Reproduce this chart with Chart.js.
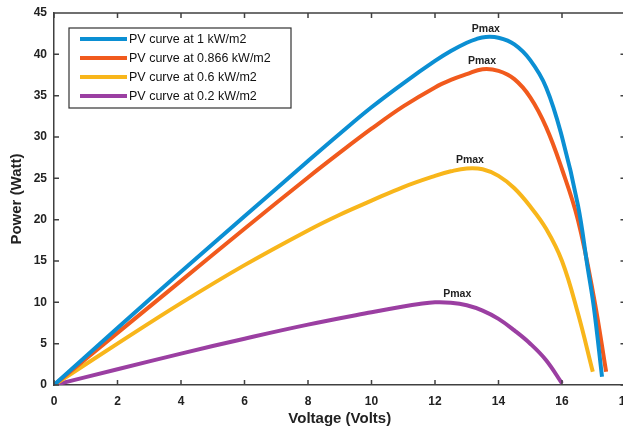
<!DOCTYPE html>
<html>
<head>
<meta charset="utf-8">
<script src="https://cdn.jsdelivr.net/npm/chart.js@4.4.1/dist/chart.umd.min.js"></script>
<style>
  html, body { margin: 0; padding: 0; background: #fff; overflow: hidden; }
  #wrap { width: 623px; height: 432px; overflow: hidden; position: relative; }
  #grafico { position: absolute; left: 0; top: 0; }
</style>
</head>
<body>
<div id="wrap"><canvas id="grafico" width="629" height="432"></canvas></div>
<script>
// Curvas P-V
var nomes = ['PV curve at 1 kW/m2', 'PV curve at 0.866 kW/m2', 'PV curve at 0.6 kW/m2', 'PV curve at 0.2 kW/m2']
var cores = ['#0b8fd3', '#f15a1d', '#f8b61b', '#9b3fa2']

var tensao_1 = [0, 2, 4, 6, 8, 9, 10, 11, 12, 12.5, 13, 13.3, 13.6, 14, 14.5, 15, 15.5, 16, 16.5, 16.8, 17, 17.26]
var potencia_1 = [0, 6.9, 13.7, 20.4, 27.1, 30.4, 33.6, 36.5, 39.2, 40.4, 41.4, 41.85, 42.1, 42.0, 41.2, 39.3, 36.0, 30.0, 21.8, 14.4, 9.5, 1.0]

var tensao_2 = [0, 2, 4, 6, 8, 9, 10, 11, 12, 12.5, 13, 13.5, 14, 14.5, 15, 15.5, 16, 16.5, 17, 17.39]
var potencia_2 = [0, 6.3, 12.6, 18.9, 25.1, 28.1, 31.0, 33.7, 36.0, 36.9, 37.6, 38.2, 38.0, 37.0, 34.8, 31.2, 26.1, 20.0, 10.7, 1.6]

var tensao_3 = [0, 2, 4, 6, 8, 9, 10, 11, 12, 12.5, 13, 13.5, 14, 14.5, 15, 15.5, 16, 16.5, 16.97]
var potencia_3 = [0, 5.0, 9.9, 14.5, 18.7, 20.6, 22.3, 23.95, 25.3, 25.85, 26.2, 26.1, 25.3, 23.8, 21.6, 18.9, 15.0, 8.7, 1.6]

var tensao_4 = [0, 2, 4, 6, 8, 10, 11, 11.5, 12, 12.5, 13, 13.5, 14, 14.5, 15, 15.5, 16]
var potencia_4 = [0, 1.9, 3.8, 5.6, 7.3, 8.8, 9.5, 9.8, 10.0, 9.95, 9.65, 9.0, 8.0, 6.6, 5.0, 3.0, 0.2]

// onde fica o texto "Pmax" (em volts) para cada curva
var pmax_label_v = [13.6, 13.48, 13.1, 12.7]

var ticks_x = [0, 2, 4, 6, 8, 10, 12, 14, 16, 18]
var ticks_y = [0, 5, 10, 15, 20, 25, 30, 35, 40, 45]

var tensoes = [tensao_1, tensao_2, tensao_3, tensao_4]
var potencias = [potencia_1, potencia_2, potencia_3, potencia_4]

function montarPontos(v, p) {
    var pts = []
    for (var i = 0; i < v.length; i++) {
        pts.push({ x: v[i], y: p[i] })
    }
    return pts
}

var datasets = []
for (var i = 0; i < nomes.length; i++) {
    datasets.push({
        label: nomes[i],
        data: montarPontos(tensoes[i], potencias[i]),
        borderColor: cores[i],
        backgroundColor: cores[i],
        borderWidth: 4,
        showLine: true,
        pointRadius: 0,
        tension: 0.4
    })
}

var fonte = "'Liberation Sans', Arial, sans-serif"
var corEixo = '#404040'

// caixa, marcas para dentro, legenda e textos Pmax
const extras = {
    id: 'extras',
    afterDatasetsDraw(chart) {
        const ctx = chart.ctx
        const a = chart.chartArea
        const sx = chart.scales.x
        const sy = chart.scales.y
        ctx.save()
        ctx.strokeStyle = corEixo
        ctx.lineWidth = 1.5
        ctx.beginPath()
        ctx.moveTo(a.left, a.top); ctx.lineTo(a.right, a.top)
        ctx.moveTo(a.right, a.top); ctx.lineTo(a.right, a.bottom)
        for (var t of ticks_x) {
            var px = sx.getPixelForValue(t)
            ctx.moveTo(px, a.bottom); ctx.lineTo(px, a.bottom - 5)
            ctx.moveTo(px, a.top); ctx.lineTo(px, a.top + 5)
        }
        for (var t of ticks_y) {
            var py = sy.getPixelForValue(t)
            ctx.moveTo(a.left, py); ctx.lineTo(a.left + 5, py)
            ctx.moveTo(a.right, py); ctx.lineTo(a.right - 5, py)
        }
        ctx.stroke()

        // Pmax
        ctx.fillStyle = '#222'
        ctx.font = 'bold 10.5px ' + fonte
        ctx.textAlign = 'center'
        ctx.textBaseline = 'bottom'
        for (var i = 0; i < potencias.length; i++) {
            var pm = Math.max.apply(null, potencias[i])
            ctx.fillText('Pmax', sx.getPixelForValue(pmax_label_v[i]), sy.getPixelForValue(pm) - 3)
        }

        // legenda
        var lx = 69, ly = 28
        ctx.fillStyle = '#fff'
        ctx.fillRect(lx, ly, 222, 80)
        ctx.strokeStyle = '#333'
        ctx.lineWidth = 1.2
        ctx.strokeRect(lx, ly, 222, 80)
        ctx.font = '12.5px ' + fonte
        ctx.textAlign = 'left'
        ctx.textBaseline = 'middle'
        chart.data.datasets.forEach(function (ds, k) {
            var yy = ly + 11 + k * 19
            ctx.strokeStyle = ds.borderColor
            ctx.lineWidth = 4
            ctx.beginPath()
            ctx.moveTo(lx + 11, yy); ctx.lineTo(lx + 58, yy)
            ctx.stroke()
            ctx.fillStyle = '#111'
            ctx.fillText(ds.label, lx + 60, yy + 1)
        })
        ctx.restore()
    }
}

const ctxGrafico = document.getElementById('grafico').getContext('2d')
const grafico = new Chart(ctxGrafico, {
    type: 'scatter',
    data: { datasets: datasets },
    options: {
        responsive: false,
        animation: false,
        layout: { padding: { top: 13, right: 3.5, left: 0, bottom: 0 } },
        plugins: {
            legend: { display: false },
            tooltip: { enabled: false }
        },
        scales: {
            x: {
                type: 'linear',
                min: 0,
                max: 18,
                afterBuildTicks: function (s) { s.ticks = ticks_x.map(function (v) { return { value: v } }) },
                afterFit: function (s) { s.height = 47; s.paddingLeft = 0; s.paddingRight = 0 },
                grid: { display: false, drawTicks: false },
                border: { display: true, color: corEixo, width: 1.5 },
                ticks: { color: '#222', padding: 9, maxRotation: 0, font: { family: fonte, size: 12, weight: 'bold' } },
                title: { display: true, text: 'Voltage (Volts)', color: '#222', padding: { top: 0, bottom: 4 }, font: { family: fonte, size: 15, weight: 'bold' } }
            },
            y: {
                type: 'linear',
                min: 0,
                max: 45,
                afterBuildTicks: function (s) { s.ticks = ticks_y.map(function (v) { return { value: v } }) },
                afterFit: function (s) { s.width = 54; s.paddingTop = 0; s.paddingBottom = 0 },
                grid: { display: false, drawTicks: false },
                border: { display: true, color: corEixo, width: 1.5 },
                ticks: { color: '#222', padding: 7, font: { family: fonte, size: 12, weight: 'bold' } },
                title: { display: true, text: 'Power (Watt)', color: '#222', padding: { top: 8, bottom: 0 }, font: { family: fonte, size: 15, weight: 'bold' } }
            }
        }
    },
    plugins: [extras]
})
</script>
</body>
</html>
